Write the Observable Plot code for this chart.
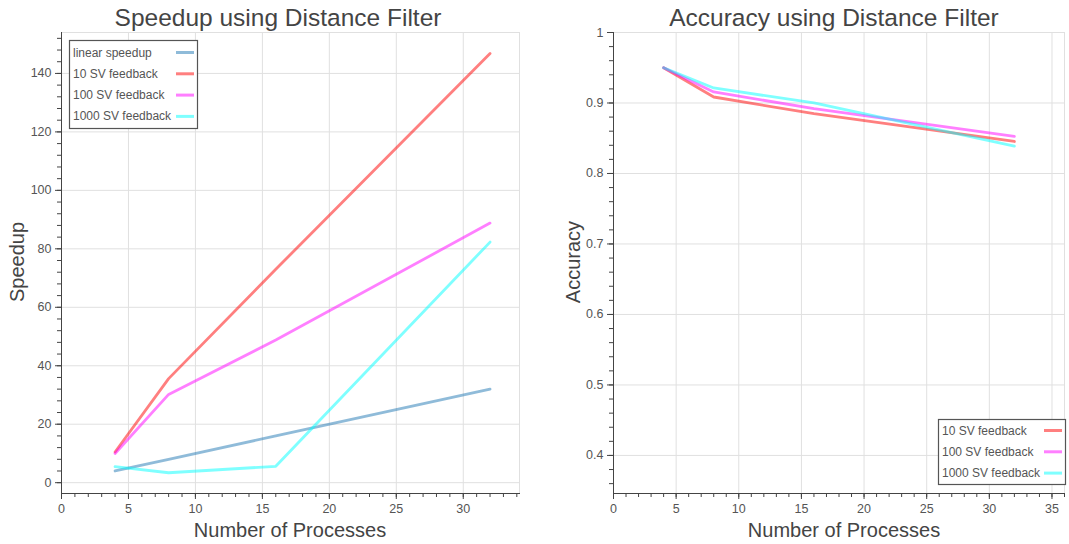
<!DOCTYPE html>
<html><head><meta charset="utf-8">
<script src="https://cdn.jsdelivr.net/npm/d3@7"></script>
<script src="https://cdn.jsdelivr.net/npm/@observablehq/plot@0.6"></script>
<style>
body{margin:0;background:#fff;}
#wrap{display:flex;width:1069px;height:544px;overflow:hidden;}
svg{font-family:"Liberation Sans",Arial,Helvetica,sans-serif;display:block;}
</style></head><body><div id="wrap"></div>
<script>
// ---- data ----
const procs = [4, 8, 16, 32];
const linearSpeedup = [4, 8, 16, 32];
const speedup10 = [10.5, 35.6, 73, 146.8];
const speedup100 = [10, 30.2, 48.8, 88.8];
const speedup1000 = [5.5, 3.4, 5.6, 82.3];
const acc10 = [0.95, 0.9085, 0.8848, 0.8454];
const acc100 = [0.95, 0.9156, 0.892, 0.8526];
const acc1000 = [0.95, 0.9213, 0.9, 0.8388];
const speedNames = ["linear speedup", "10 SV feedback", "100 SV feedback", "1000 SV feedback"];
const accNames = ["10 SV feedback", "100 SV feedback", "1000 SV feedback"];
const xTicks1 = [0, 5, 10, 15, 20, 25, 30];
const yTicks1 = [0, 20, 40, 60, 80, 100, 120, 140];
const xTicks2 = [0, 5, 10, 15, 20, 25, 30, 35];
const yTicks2 = [0.4, 0.5, 0.6, 0.7, 0.8, 0.9, 1];

// ---- styles ----
const colorOf = {
  "linear speedup": "#1f77b4",
  "10 SV feedback": "#ff0000",
  "100 SV feedback": "#ff00ff",
  "1000 SV feedback": "#00ffff"
};
const opacityOf = {"linear speedup": 0.5, "10 SV feedback": 0.5, "100 SV feedback": 0.5, "1000 SV feedback": 0.5};
const H = 544;
const FONT = '"Liberation Sans",Arial,Helvetica,sans-serif';

function table(names, seriesList) {
  const rows = [];
  names.forEach((n, i) => seriesList[i].forEach((v, j) => rows.push({x: procs[j], y: v, series: n})));
  return rows;
}

function chart(o) {
  const names = o.names;
  const svg = Plot.plot({
    width: o.width, height: H,
    marginLeft: o.marginLeft, marginRight: o.marginRight, marginTop: 32, marginBottom: 51,
    style: {fontFamily: FONT, fontSize: "12px", color: "#444", background: "#fff", overflow: "visible"},
    x: {domain: o.xDomain, label: null},
    y: {domain: o.yDomain, label: null},
    color: {domain: names, range: names.map(n => colorOf[n])},
    marks: [
      Plot.gridX(o.xTicks, {stroke: "#e0e0e0", strokeOpacity: 1, strokeWidth: 1}),
      Plot.gridY(o.yTicks, {stroke: "#e0e0e0", strokeOpacity: 1, strokeWidth: 1}),
      Plot.frame({stroke: "#e0e0e0"}),
      ...names.map(n => Plot.line(o.data.filter(d => d.series === n), {
        x: "x", y: "y", stroke: colorOf[n], strokeWidth: 2.8, strokeOpacity: opacityOf[n]
      })),
      Plot.frame({anchor: "left", stroke: "#444"}),
      Plot.frame({anchor: "bottom", stroke: "#444"}),
      Plot.axisX(o.xTicks, {tickSize: 6, tickPadding: 5, label: null, stroke: "#444", fill: "#555", fontSize: 12.5}),
      Plot.axisX(o.xMinor, {tickSize: 4, tickFormat: () => "", label: null, stroke: "#444"}),
      Plot.axisY(o.yTicks, {tickSize: 6, tickPadding: 4, label: null, tickFormat: o.yFormat, stroke: "#444", fill: "#555", fontSize: 12.5}),
      Plot.axisY(o.yMinor, {tickSize: 4, tickFormat: () => "", label: null, stroke: "#444"})
    ]
  });
  const s = d3.select(svg);
  s.append("text").attr("x", o.titleX).attr("y", 26).attr("text-anchor", "middle")
    .attr("font-size", 24.5).attr("fill", "#444").attr("font-family", FONT).text(o.title);
  s.append("text").attr("x", o.xLabelX).attr("y", 537).attr("text-anchor", "middle")
    .attr("font-size", 20).attr("fill", "#444").attr("font-family", FONT).text("Number of Processes");
  s.append("text").attr("transform", `translate(${o.yLabelX},262) rotate(-90)`).attr("text-anchor", "middle")
    .attr("font-size", 20).attr("fill", "#444").attr("font-family", FONT).text(o.yLabel);
  // legend
  const L = o.legend;
  const g = s.append("g").attr("text-anchor", "start");
  g.append("rect").attr("x", L.x + 0.5).attr("y", L.y + 0.5).attr("width", L.w).attr("height", L.h)
    .attr("fill", "#fff").attr("stroke", "#555").attr("stroke-width", 1.2);
  names.forEach((n, i) => {
    const cy = L.y + L.first + i * 21.3;
    g.append("text").attr("x", L.x + 4).attr("y", cy + 4).attr("font-size", 12).attr("fill", "#555")
      .attr("text-anchor", "start").attr("font-family", FONT).text(n);
    g.append("line").attr("x1", L.x + L.w - 21).attr("x2", L.x + L.w - 3).attr("y1", cy).attr("y2", cy)
      .attr("stroke", colorOf[n]).attr("stroke-opacity", opacityOf[n]).attr("stroke-width", 3);
  });
  return svg;
}

const wrap = document.getElementById("wrap");
wrap.appendChild(chart({
  width: 534, marginLeft: 61, marginRight: 15,
  xDomain: [0, 34.2], yDomain: [-3.7, 154],
  xTicks: xTicks1, yTicks: yTicks1,
  xMinor: d3.range(0, 35, 1), yMinor: d3.range(0, 153, 4),
  yFormat: d => String(d),
  names: speedNames,
  data: table(speedNames, [linearSpeedup, speedup10, speedup100, speedup1000]),
  title: "Speedup using Distance Filter", titleX: 278, xLabelX: 290, yLabelX: 24, yLabel: "Speedup",
  legend: {x: 69, y: 40, w: 128, h: 88, first: 12.5}
}));
wrap.appendChild(chart({
  width: 535, marginLeft: 79, marginRight: 5,
  xDomain: [0, 36], yDomain: [0.346, 1],
  xTicks: xTicks2, yTicks: yTicks2,
  xMinor: d3.range(0, 37, 1), yMinor: d3.range(18, 51).map(i => i / 50),
  yFormat: d => String(d),
  names: accNames,
  data: table(accNames, [acc10, acc100, acc1000]),
  title: "Accuracy using Distance Filter", titleX: 300, xLabelX: 310, yLabelX: 46, yLabel: "Accuracy",
  legend: {x: 404, y: 419, w: 127, h: 65, first: 11.5}
}));
</script></body></html>
